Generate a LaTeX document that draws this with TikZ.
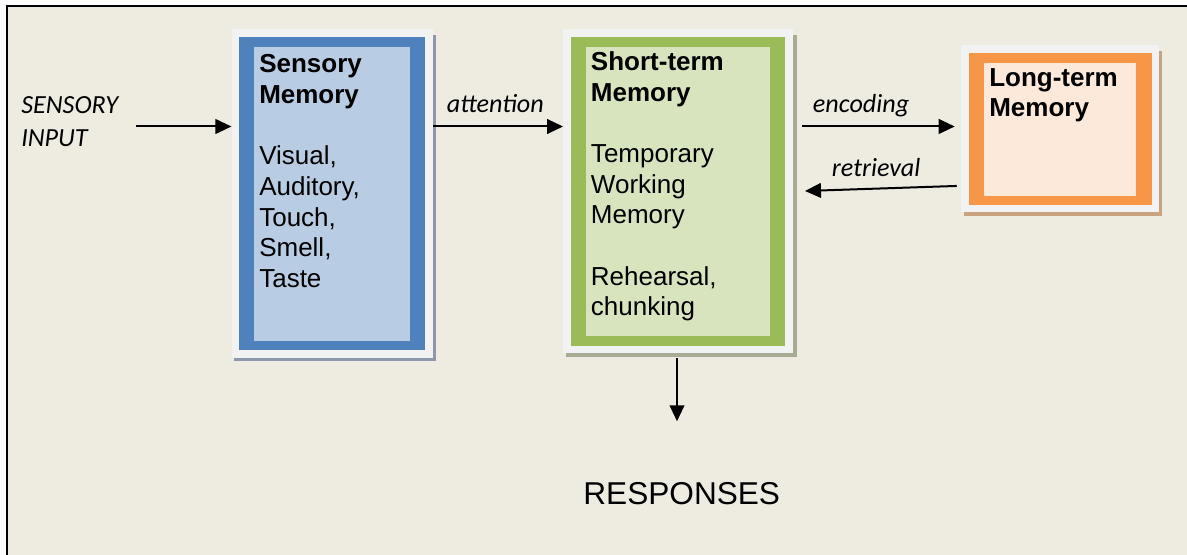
\documentclass[tikz,border=0pt]{standalone}
\usepackage{fontspec}
\setmainfont{Liberation Sans}
\newfontfamily\labelfont{Carlito}
\usetikzlibrary{arrows.meta,calc,fit}

\definecolor{paper}{HTML}{EEECE1}
\definecolor{framewhite}{HTML}{F2F2F2}
\definecolor{smBorder}{HTML}{4F81BD}
\definecolor{smFill}{HTML}{B8CCE4}
\definecolor{smShadow}{HTML}{8D99AB}
\definecolor{stmBorder}{HTML}{9BBB59}
\definecolor{stmFill}{HTML}{D7E4BD}
\definecolor{stmShadow}{HTML}{A7AC92}
\definecolor{ltmBorder}{HTML}{F79646}
\definecolor{ltmFill}{HTML}{FDE9D9}
\definecolor{ltmShadow}{HTML}{C9A27E}

\begin{document}
\begin{tikzpicture}[x=0.75pt,y=-0.75pt,
  boxtext/.style={anchor=north west, inner sep=0pt, align=left,
    font=\fontsize{19.5}{23}\selectfont},
  cue/.style={anchor=base west, inner sep=0pt,
    font=\labelfont\itshape\fontsize{19.6}{24.5}\selectfont},
  flow/.style={line width=1.5pt, -{Triangle[length=12pt,width=11pt]}},
  frame/.style={fill=framewhite, inner sep=0pt, draw=none}]
\useasboundingbox (0,0) rectangle (1187,555);
\fill[white] (0,0) rectangle (1187,555);
\fill[paper] (7,6) rectangle (1187,555);
\draw[line width=1.5pt] (7,555) -- (7,6) -- (1187,6);

% Sensory memory
\fill[smShadow] (234,35) rectangle (435.5,361.5);
\node[frame, fit={(231.7,29.3) (432.7,358)}] (sm) {};
\fill[smBorder] (239,36.7) rectangle (425,350);
\fill[smFill] (254,46.7) rectangle (410,340.7);
\node[boxtext] (smText) at (259,54.4)
  {\textbf{Sensory}\\\textbf{Memory}\\[23pt]Visual,\\Auditory,\\Touch,\\Smell,\\Taste};

% Short-term memory
\fill[stmShadow] (566,35) rectangle (796.5,357);
\node[frame, fit={(563.3,29) (792.7,353)}] (stm) {};
\fill[stmBorder] (571,37.3) rectangle (785,345.7);
\fill[stmFill] (586,47.3) rectangle (770,335.7);
\node[boxtext] (stmText) at (590.7,51.3)
  {\textbf{Short-term}\\\textbf{Memory}\\[23pt]Temporary\\Working\\Memory\\[23pt]Rehearsal,\\chunking};

% Long-term memory
\fill[ltmShadow] (964,51) rectangle (1162,216.5);
\node[frame, fit={(961,45) (1159.3,212.3)}] (ltm) {};
\fill[ltmBorder] (969,52.7) rectangle (1151.7,205);
\fill[ltmFill] (984,62.7) rectangle (1135.7,196);
\node[boxtext] (ltmText) at (989,68.1) {\textbf{Long-term}\\\textbf{Memory}};

% labels
\node[cue, anchor=north west, align=left] (input) at (21,96.6) {SENSORY\\INPUT};
\node[cue] (att) at (446.7,113) {attention};
\node[cue] (enc) at (812.7,113) {encoding};
\node[cue] (ret) at (831.7,177) {retrieval};
\node[anchor=base, inner sep=0pt, font=\fontsize{23.7}{28}\selectfont] (resp) at (681.7,504.3) {RESPONSES};

% connectors
\coordinate (row) at (0,126.5);
\coordinate (inStart) at (136,126.5);
\draw[flow] (inStart) -- (sm.west |- row);
\draw[flow] (sm.east |- row) -- (stm.west |- row);
\draw[flow] ($(stm.east |- row)+(9,0)$) -- ($(ltm.west |- row)+(-6,0)$);
\draw[flow] ($(ltm.west)+(-4,57.3)$) -- ($(stm.east)+(12,0)$);
\draw[flow] ($(stm.south)+(-1,5)$) -- ($(stm.south)+(-1,68)$);
\end{tikzpicture}
\end{document}
